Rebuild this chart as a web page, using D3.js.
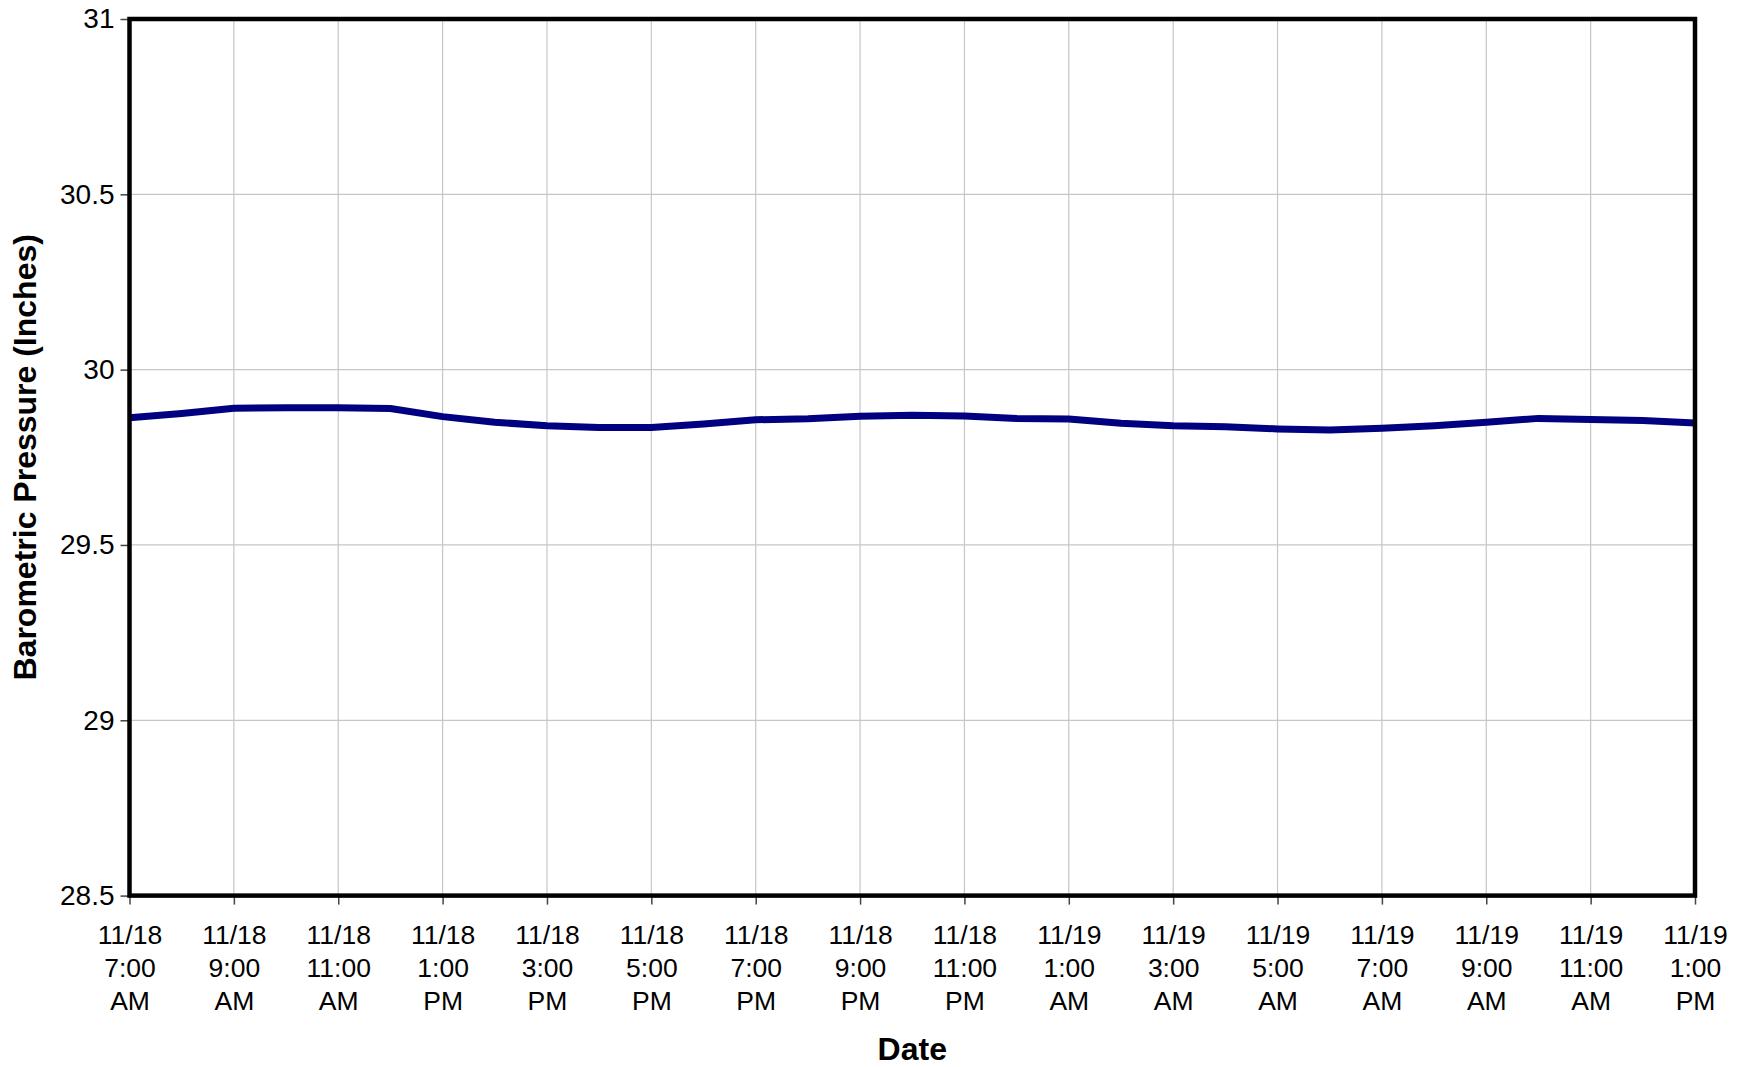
<!DOCTYPE html>
<html>
<head>
<meta charset="utf-8">
<script src="https://cdn.jsdelivr.net/npm/d3@7/dist/d3.min.js"></script>
<style>
  html, body { margin: 0; padding: 0; background: #fff; }
  svg { display: block; font-family: "Liberation Sans", Arial, sans-serif; }
</style>
</head>
<body>
<svg id="chart" width="1738" height="1067"></svg>
<script>
// Hourly readings, 11/18 7:00 AM through 11/19 1:00 PM
const hours = [
  "11/18 7:00 AM", "11/18 8:00 AM", "11/18 9:00 AM", "11/18 10:00 AM", "11/18 11:00 AM",
  "11/18 12:00 PM", "11/18 1:00 PM", "11/18 2:00 PM", "11/18 3:00 PM", "11/18 4:00 PM",
  "11/18 5:00 PM", "11/18 6:00 PM", "11/18 7:00 PM", "11/18 8:00 PM", "11/18 9:00 PM",
  "11/18 10:00 PM", "11/18 11:00 PM", "11/19 12:00 AM", "11/19 1:00 AM", "11/19 2:00 AM",
  "11/19 3:00 AM", "11/19 4:00 AM", "11/19 5:00 AM", "11/19 6:00 AM", "11/19 7:00 AM",
  "11/19 8:00 AM", "11/19 9:00 AM", "11/19 10:00 AM", "11/19 11:00 AM", "11/19 12:00 PM",
  "11/19 1:00 PM"
];

// Barometric pressure, inches of mercury
const pressure = [
  29.863, 29.875, 29.890, 29.891, 29.891, 29.889, 29.866, 29.850, 29.840, 29.835,
  29.835, 29.845, 29.857, 29.860, 29.867, 29.870, 29.868, 29.861, 29.859, 29.847,
  29.840, 29.837, 29.831, 29.828, 29.833, 29.840, 29.850, 29.861, 29.858, 29.855,
  29.848
];

// Axis ticks
const xTickIndex = [0, 2, 4, 6, 8, 10, 12, 14, 16, 18, 20, 22, 24, 26, 28, 30];
const xTickLabels = [
  ["11/18", "7:00", "AM"], ["11/18", "9:00", "AM"], ["11/18", "11:00", "AM"],
  ["11/18", "1:00", "PM"], ["11/18", "3:00", "PM"], ["11/18", "5:00", "PM"],
  ["11/18", "7:00", "PM"], ["11/18", "9:00", "PM"], ["11/18", "11:00", "PM"],
  ["11/19", "1:00", "AM"], ["11/19", "3:00", "AM"], ["11/19", "5:00", "AM"],
  ["11/19", "7:00", "AM"], ["11/19", "9:00", "AM"], ["11/19", "11:00", "AM"],
  ["11/19", "1:00", "PM"]
];
const yTicks = [28.5, 29, 29.5, 30, 30.5, 31];
const yTickLabels = ["28.5", "29", "29.5", "30", "30.5", "31"];

const xTitle = "Date";
const yTitle = "Barometric Pressure (Inches)";

const plot = { left: 129.5, right: 1695, top: 19, bottom: 895.6 };
const FONT = "'Liberation Sans', Arial, sans-serif";

const svg = d3.select("#chart");

const x = d3.scaleLinear().domain([0, hours.length - 1]).range([plot.left, plot.right]);
const y = d3.scaleLinear().domain([28.5, 31]).range([plot.bottom, plot.top]);

// Gridlines
const grid = svg.append("g").attr("stroke", "#c6c6c6").attr("stroke-width", 1.2);
grid.selectAll("line.v").data(xTickIndex).join("line")
  .attr("x1", d => x(d)).attr("x2", d => x(d))
  .attr("y1", plot.top).attr("y2", plot.bottom);
grid.selectAll("line.h").data(yTicks).join("line")
  .attr("x1", plot.left).attr("x2", plot.right)
  .attr("y1", d => y(d)).attr("y2", d => y(d));

// Y axis
const yAxis = d3.axisLeft(y)
  .tickValues(yTicks)
  .tickFormat((d, i) => yTickLabels[i])
  .tickSize(9)
  .tickPadding(6);
const gy = svg.append("g").attr("transform", `translate(${plot.left},0)`).call(yAxis);
gy.select(".domain").remove();
gy.selectAll(".tick line").attr("stroke", "#444").attr("stroke-width", 1.5);
gy.selectAll(".tick text")
  .attr("font-size", 28)
  .attr("fill", "#000")
  .attr("font-family", FONT);

// X axis with three-line labels
const xAxis = d3.axisBottom(x)
  .tickValues(xTickIndex)
  .tickFormat("")
  .tickSize(9);
const gx = svg.append("g").attr("transform", `translate(0,${plot.bottom})`).call(xAxis);
gx.select(".domain").remove();
gx.selectAll(".tick line").attr("stroke", "#444").attr("stroke-width", 1.5);
gx.selectAll(".tick").each(function (d, i) {
  const t = d3.select(this).append("text")
    .attr("fill", "#000")
    .attr("font-size", 26.5)
    .attr("text-anchor", "middle")
    .attr("font-family", FONT);
  xTickLabels[i].forEach((s, k) => {
    t.append("tspan").attr("x", 0).attr("y", 48 + k * 33.3).text(s);
  });
});

// Pressure line
const line = d3.line()
  .x((d, i) => x(i))
  .y(d => y(d));
svg.append("path")
  .datum(pressure)
  .attr("fill", "none")
  .attr("stroke", "#000080")
  .attr("stroke-width", 7)
  .attr("stroke-linejoin", "round")
  .attr("d", line);

// Plot frame
svg.append("rect")
  .attr("x", plot.left).attr("y", plot.top)
  .attr("width", plot.right - plot.left)
  .attr("height", plot.bottom - plot.top)
  .attr("fill", "none")
  .attr("stroke", "#000")
  .attr("stroke-width", 4.5);

// Axis titles
svg.append("text")
  .attr("x", (plot.left + plot.right) / 2)
  .attr("y", 1060)
  .attr("text-anchor", "middle")
  .attr("font-size", 32)
  .attr("font-weight", "bold")
  .attr("font-family", FONT)
  .text(xTitle);

svg.append("text")
  .attr("transform", `translate(36,${(plot.top + plot.bottom) / 2}) rotate(-90)`)
  .attr("text-anchor", "middle")
  .attr("font-size", 32)
  .attr("font-weight", "bold")
  .attr("font-family", FONT)
  .text(yTitle);
</script>
</body>
</html>
